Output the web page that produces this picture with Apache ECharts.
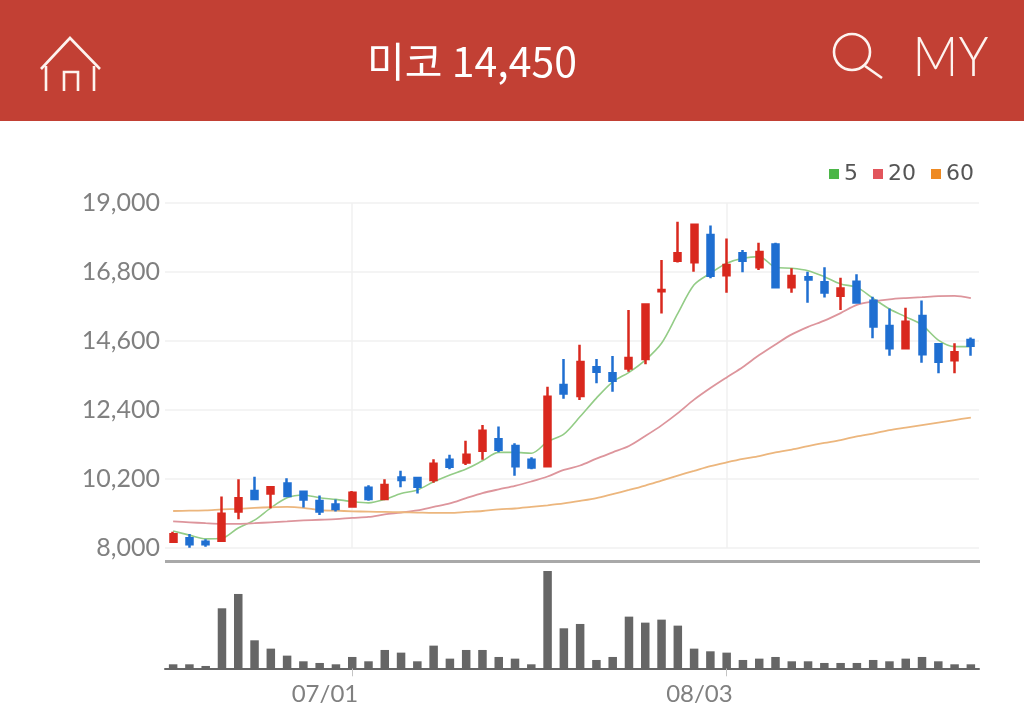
<!DOCTYPE html>
<html><head><meta charset="utf-8">
<style>html,body{margin:0;padding:0;background:#fff}#c{width:1024px;height:709px}</style>
<script src="https://cdn.jsdelivr.net/npm/echarts@6/dist/echarts.min.js"></script>
</head><body><div id="c"></div>
<script>
const stockName = '미코';
const lastPrice = '14,450';
const dates = ['06/16','06/17','06/18','06/19','06/22','06/23','06/24','06/25','06/26','06/29','06/30',
 '07/01','07/02','07/03','07/06','07/07','07/08','07/09','07/10','07/13','07/14','07/15','07/16','07/17','07/20','07/21','07/22','07/23','07/24','07/27','07/28','07/29','07/30','07/31',
 '08/03','08/04','08/05','08/06','08/07','08/10','08/11','08/12','08/13','08/14','08/18','08/19','08/20','08/21','08/24','08/25'];
const shownDates = ['07/01','08/03'];
const yTicks = [8000,10200,12400,14600,16800,19000];
// open, close, low, high
const candles = [
[8200,8440,8170,8520],[8310,8120,8010,8450],[8200,8120,8040,8280],[8230,9090,8230,9640],[9160,9590,8920,10190],
[9820,9560,9560,10270],[9740,9940,9270,9940],[10060,9660,9660,10220],[9790,9550,9290,9790],[9500,9160,9050,9670],
[9390,9240,9160,9550],[9320,9760,9300,9820],[9920,9560,9510,10000],[9560,10010,9530,10190],[10250,10170,9940,10460],
[10230,9950,9740,10270],[10170,10690,10080,10830],[10810,10590,10510,10970],[10730,10970,10650,11420],[11100,11740,10810,11920],
[11470,11130,11050,11870],[11250,10610,10300,11340],[10810,10570,10510,10890],[10610,12820,10610,13140],[13200,12930,12760,14030],
[12850,13930,12720,14480],[13760,13620,13250,14030],[13570,13330,12980,14120],[13720,14060,13620,15590],[14030,15760,13860,15760],
[16190,16230,15480,17180],[17160,17400,17100,18400],[17110,18310,16810,18310],[17980,16680,16600,18280],[16700,17020,16140,17870],
[17400,17160,16790,17500],[16950,17440,16860,17730],[17680,16310,16310,17730],[16310,16670,16140,16920],[16630,16560,15820,16810],
[16470,16150,15990,16950],[16040,16270,15590,16620],[16490,15830,15830,16730],[15880,15060,14690,16010],[15080,14370,14130,15640],
[14370,15210,14370,15660],[15400,14180,13910,15890],[14500,13940,13570,14500],[13990,14240,13570,14530],[14630,14450,14130,14710]];
const ma5 = [8540,8410,8290,8310,8640,8890,9280,9600,9690,9600,9550,9480,9440,9550,9740,9850,10110,10330,10520,10780,11050,11050,11020,11390,11630,12190,12780,13300,13600,13990,14530,15480,16390,16760,17080,17240,17290,16950,16920,16840,16650,16420,16310,15960,15620,15370,15110,14630,14420,14420];
const ma20 = [8850,8820,8790,8770,8770,8790,8820,8850,8880,8900,8920,8960,8990,9070,9130,9200,9310,9420,9590,9750,9870,9980,10120,10280,10490,10630,10850,11050,11250,11570,11910,12300,12730,13100,13440,13770,14150,14490,14810,15050,15250,15490,15750,15860,15930,15970,16000,16030,16040,15970];
const ma60 = [9180,9190,9200,9230,9250,9280,9300,9310,9280,9210,9190,9170,9160,9150,9140,9130,9120,9120,9150,9180,9230,9260,9310,9360,9420,9500,9590,9720,9850,9990,10150,10310,10460,10610,10730,10840,10930,11050,11140,11250,11350,11440,11560,11650,11760,11840,11920,12000,12080,12160];
const volumes = [12,12,7,180,223,84,59,38,21,16,12,34,21,55,47,21,68,29,55,55,34,29,12,292,120,133,25,34,155,137,146,128,59,51,47,25,29,34,21,21,16,16,16,25,21,29,34,21,12,12].map(v=>v*1000);

const axisFont = 'Lato';
const gridCol = '#f1f1f1';
const isShown = (i, v) => shownDates.includes(dates[i]);
const W = '#fdf3ef';
const chart = echarts.init(document.getElementById('c'), null, {renderer:'canvas'});
chart.setOption({
  animation:false,
  backgroundColor:'#fff',
  legend:{top:158,right:45,itemWidth:10,itemHeight:10,itemGap:15,icon:'rect',
    textStyle:{fontFamily:'"DejaVu Sans"',fontSize:22,color:'#555',padding:[0,0,0,0]},
    data:[{name:'5',itemStyle:{color:'#4cb648'}},{name:'20',itemStyle:{color:'#e2555c'}},{name:'60',itemStyle:{color:'#ee8a22'}}]},
  graphic:[
    {type:'rect',z:0,shape:{x:0,y:0,width:1024,height:121},style:{fill:'#c24034'}},
    {type:'text',z:1,style:{text:stockName+' '+lastPrice,x:472,y:61,align:'center',verticalAlign:'middle',fill:'#fff',fontSize:41,fontFamily:'"Noto Sans CJK KR"',fontWeight:400}},
    {type:'polyline',z:1,shape:{points:[[41,69],[70,38],[100,69]]},style:{stroke:W,lineWidth:2.6,fill:null}},
    {type:'polyline',z:1,shape:{points:[[46,66],[46,91]]},style:{stroke:W,lineWidth:2.6,fill:null}},
    {type:'polyline',z:1,shape:{points:[[94,66],[94,91]]},style:{stroke:W,lineWidth:2.6,fill:null}},
    {type:'polyline',z:1,shape:{points:[[64,91],[64,72],[78,72],[78,91]]},style:{stroke:W,lineWidth:2.6,fill:null}},
    {type:'circle',z:1,shape:{cx:852,cy:52,r:18},style:{stroke:W,lineWidth:2.6,fill:null}},
    {type:'line',z:1,shape:{x1:865,y1:66,x2:882,y2:78},style:{stroke:W,lineWidth:2.6}},
    {type:'text',z:1,x:950.5,y:58,scaleX:0.9,style:{text:'MY',x:0,y:0,align:'center',verticalAlign:'middle',fill:W,fontSize:56,fontFamily:'Lato',fontWeight:300}},
    {type:'rect',z:1,shape:{x:165,y:560,width:815,height:3},style:{fill:'#a9a9a9'}}
  ],
  grid:[
    {left:165,width:814,top:203,height:345},
    {left:165,width:814,top:568.3,height:100}
  ],
  xAxis:[
    {type:'category',gridIndex:0,data:dates,boundaryGap:true,
     axisLine:{show:false},axisTick:{show:false},axisLabel:{show:false},
     splitLine:{show:true,alignWithLabel:true,interval:isShown,lineStyle:{color:'#f0f0f0',width:1.5}}},
    {type:'category',gridIndex:1,data:dates,boundaryGap:true,
     axisLine:{show:true,lineStyle:{color:'#666',width:2}},
     axisTick:{show:true,alignWithLabel:true,interval:isShown,length:8,lineStyle:{color:'#c4c4c4'}},
     axisLabel:{show:true,interval:isShown,align:'right',padding:[0,-6,0,0],margin:14,color:'#808080',fontFamily:axisFont,fontSize:24},
     splitLine:{show:false}}
  ],
  yAxis:[
    {type:'value',gridIndex:0,min:8000,max:19000,
     axisLine:{show:false},axisTick:{show:false,customValues:yTicks},
     axisLabel:{customValues:yTicks,margin:5,color:'#808080',fontFamily:axisFont,fontSize:25,
       formatter:v=>v.toLocaleString('en-US')},
     splitLine:{show:true,lineStyle:{color:gridCol,width:1.5}}},
    {type:'value',gridIndex:1,min:0,max:300000,axisLine:{show:false},axisTick:{show:false},axisLabel:{show:false},splitLine:{show:false}}
  ],
  series:[
    {name:'5',type:'line',data:ma5,xAxisIndex:0,yAxisIndex:0,showSymbol:false,smooth:0.3,z:2,lineStyle:{color:'#93cc86',width:1.6},itemStyle:{color:'#4cb648'}},
    {name:'20',type:'line',data:ma20,xAxisIndex:0,yAxisIndex:0,showSymbol:false,smooth:0.3,z:2,lineStyle:{color:'#dd959c',width:1.8},itemStyle:{color:'#e2555c'}},
    {name:'60',type:'line',data:ma60,xAxisIndex:0,yAxisIndex:0,showSymbol:false,smooth:0.3,z:2,lineStyle:{color:'#ecb67d',width:1.8},itemStyle:{color:'#ee8a22'}},
    {name:'price',type:'candlestick',data:candles,xAxisIndex:0,yAxisIndex:0,barWidth:6.5,z:3,
     itemStyle:{color:'#d9281e',color0:'#1f6fd1',borderColor:'#d9281e',borderColor0:'#1f6fd1',borderWidth:2.5}},
    {name:'volume',type:'bar',data:volumes,xAxisIndex:1,yAxisIndex:1,barWidth:8.5,itemStyle:{color:'#666'}}
  ]
});
</script></body></html>
